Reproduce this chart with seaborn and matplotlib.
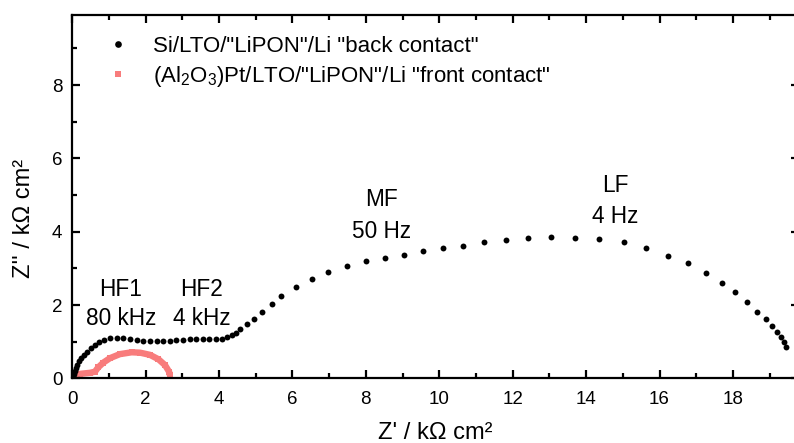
import matplotlib
matplotlib.use("Agg")
import matplotlib.pyplot as plt
from matplotlib.lines import Line2D
import seaborn as sns
import pandas as pd

# Nyquist data, Z' and Z'' in kOhm cm^2
back_re = [0.00, 0.02, 0.04, 0.07, 0.10, 0.14, 0.19, 0.25, 0.32, 0.40, 0.50, 0.61,
           0.73, 0.87, 1.03, 1.21,
           1.39, 1.57, 1.76, 1.94, 2.12, 2.30, 2.48, 2.66, 2.84, 3.02, 3.20, 3.38,
           3.56, 3.74, 3.92, 4.08, 4.22, 4.35, 4.46, 4.57, 4.75, 4.95, 5.18, 5.43,
           5.70, 6.09, 6.52, 6.98, 7.48, 8.00, 8.51, 9.04, 9.57, 10.09, 10.65, 11.22,
           11.81, 12.42, 13.05, 13.71, 14.35, 15.02, 15.63, 16.24, 16.77, 17.26,
           17.70, 18.05, 18.37, 18.65, 18.89, 19.07, 19.21, 19.30, 19.38, 19.45]
back_im = [0.00, 0.06, 0.13, 0.21, 0.29, 0.37, 0.46, 0.55, 0.64, 0.73, 0.82, 0.90,
           0.98, 1.04, 1.09, 1.10,
           1.09, 1.07, 1.05, 1.03, 1.02, 1.02, 1.02, 1.03, 1.04, 1.05, 1.06, 1.07,
           1.07, 1.07, 1.07, 1.08, 1.12, 1.18, 1.25, 1.34, 1.47, 1.63, 1.81, 2.03,
           2.25, 2.50, 2.72, 2.90, 3.06, 3.19, 3.28, 3.37, 3.46, 3.55, 3.62, 3.71,
           3.78, 3.83, 3.85, 3.83, 3.79, 3.71, 3.55, 3.35, 3.14, 2.88,
           2.61, 2.35, 2.07, 1.82, 1.61, 1.43, 1.27, 1.13, 0.99, 0.85]

front_re = [0.00, 0.20, 0.48, 0.62, 0.71, 0.85, 1.03, 1.30, 1.62, 1.85, 2.12, 2.35,
            2.53, 2.64, 2.66]
front_im = [0.04, 0.12, 0.15, 0.18, 0.30, 0.43, 0.55, 0.66, 0.71, 0.70, 0.64, 0.52,
            0.36, 0.18, 0.09]

back_label = 'Si/LTO/"LiPON"/Li "back contact"'
front_label = '(Al$_2$O$_3$)Pt/LTO/"LiPON"/Li "front contact"'

# frequency markers: position, upper/lower line heights, region name, frequency
marker_x = [1.33, 3.53, 8.43, 14.8]
marker_y_top = [2.41, 2.41, 4.88, 5.26]
marker_y_bot = [1.64, 1.64, 4.00, 4.41]
marker_names = ["HF1", "HF2", "MF", "LF"]
marker_freqs = ["80 kHz", "4 kHz", "50 Hz", "4 Hz"]

sns.set_theme(style="ticks")
black = "#000000"
salmon = "#f87c7c"
plt.rcParams.update({
    "font.family": ["Liberation Sans", "DejaVu Sans"],
    "mathtext.fontset": "custom",
    "mathtext.rm": "Liberation Sans",
    "mathtext.default": "regular",
    "text.color": black,
    "axes.labelcolor": black,
    "axes.edgecolor": black,
    "axes.axisbelow": False,
    "xtick.color": black,
    "ytick.color": black,
    "xtick.direction": "in",
    "ytick.direction": "in",
    "xtick.top": True,
    "ytick.right": True,
})

fig = plt.figure(figsize=(7.94, 4.43), dpi=100)
ax = fig.add_axes([0.0909, 0.146, 0.9154, 0.820])
ax.set_axisbelow(False)

front = pd.DataFrame({"re": front_re, "im": front_im})
back = pd.DataFrame({"re": back_re, "im": back_im})

sns.lineplot(data=front, x="re", y="im", sort=False, ax=ax, color=salmon,
             linewidth=4.6, marker="s", markersize=4.2, markeredgewidth=0,
             solid_capstyle="butt", zorder=2)
sns.scatterplot(data=back, x="re", y="im", ax=ax, color=black, s=18,
                linewidth=0, zorder=3)

ax.set_xlim(0, 19.8)
ax.set_ylim(0, 9.91)
ax.set_xticks([0, 2, 4, 6, 8, 10, 12, 14, 16, 18])
ax.set_xticks(range(1, 20, 2), minor=True)
ax.set_yticks([0, 2, 4, 6, 8])
ax.set_yticks([1, 3, 5, 7, 9], minor=True)

for side in ["top", "right", "bottom", "left"]:
    ax.spines[side].set_visible(True)
    ax.spines[side].set_linewidth(1.6)
    ax.spines[side].set_color(black)
    ax.spines[side].set_zorder(4)
ax.tick_params(which="both", direction="in", top=True, right=True,
               bottom=True, left=True, color=black, labelcolor=black,
               labelsize=13.5, zorder=4)
ax.tick_params(which="major", length=6.0, width=1.6)
ax.tick_params(which="minor", length=3.4, width=1.6)
ax.tick_params(axis="x", which="major", pad=9)
ax.tick_params(axis="y", which="major", pad=7)

ax.set_xlabel("Z' / k\u03a9 cm\u00b2", fontsize=17)
ax.set_ylabel("Z'' / k\u03a9 cm\u00b2", fontsize=17)
ax.xaxis.set_label_coords(0.5, -0.12)
ax.yaxis.set_label_coords(-0.051, 0.44)

for x, yt, yb, name, freq in zip(marker_x, marker_y_top, marker_y_bot,
                                 marker_names, marker_freqs):
    ax.text(x, yt, name, ha="center", va="center", fontsize=16.3)
    ax.text(x, yb, freq, ha="center", va="center", fontsize=16.3)

handles = [
    Line2D([], [], linestyle="none", marker="o", markersize=4.8,
           markerfacecolor=black, markeredgewidth=0),
    Line2D([], [], linestyle="none", marker="s", markersize=5,
           markerfacecolor=salmon, markeredgewidth=0),
]
ax.legend(handles, [back_label, front_label], loc="upper left",
          bbox_to_anchor=(0.035, 0.967), frameon=False, fontsize=16,
          handlelength=1.0, handletextpad=1.1, labelspacing=0.3,
          borderaxespad=0)

fig.savefig("out.png", dpi=100)
